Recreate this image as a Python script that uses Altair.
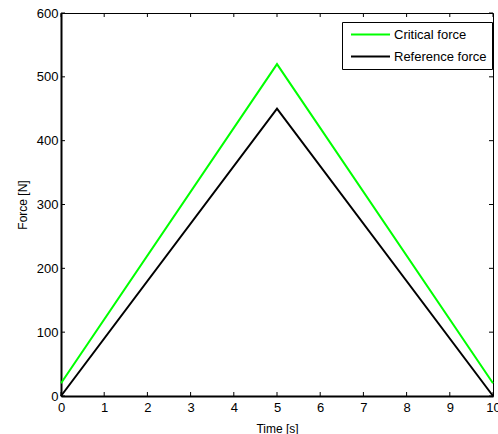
import altair as alt
import pandas as pd

time_s = [0, 5, 10]
critical_force = [20, 520, 20]
reference_force = [0, 450, 0]
series_names = ["Critical force", "Reference force"]
series_colors = ["#00ff00", "#000000"]
x_ticks = [0, 1, 2, 3, 4, 5, 6, 7, 8, 9, 10]
y_ticks = [0, 100, 200, 300, 400, 500, 600]

rows = []
for t, v in zip(time_s, critical_force):
    rows.append({"t": t, "f": v, "s": series_names[0]})
for t, v in zip(time_s, reference_force):
    rows.append({"t": t, "f": v, "s": series_names[1]})
df = pd.DataFrame(rows)
xt = pd.DataFrame({"t": x_ticks})
yt = pd.DataFrame({"f": y_ticks})

W, H = 432, 383
TL = 4
FONT = "Liberation Sans"
xs = alt.Scale(domain=[0, 10], nice=False, zero=False)
ys = alt.Scale(domain=[0, 600], nice=False, zero=False)

lines = alt.Chart(df).mark_line(strokeWidth=2).encode(
    x=alt.X("t:Q", scale=xs, title="Time [s]",
            axis=alt.Axis(values=x_ticks, ticks=False, domainWidth=2, domainColor="black",
                          labelPadding=5, labelFontSize=13, labelColor="black", labelFont=FONT,
                          labelFlush=False, labelOverlap=False,
                          titleFont=FONT, titleFontSize=12, titleFontWeight="normal",
                          titleColor="black", titleY=32, titleBaseline="middle", grid=False)),
    y=alt.Y("f:Q", scale=ys, title="Force [N]",
            axis=alt.Axis(values=y_ticks, ticks=False, domainWidth=2, domainColor="black",
                          labelPadding=3, labelFontSize=13, labelColor="black", labelFont=FONT,
                          labelFlush=False, labelOverlap=False,
                          titleFont=FONT, titleFontSize=12, titleFontWeight="normal",
                          titleColor="black", titleX=-39, titleBaseline="middle", grid=False)),
    color=alt.Color("s:N", scale=alt.Scale(domain=series_names, range=series_colors),
                    legend=alt.Legend(title=None, orient="none", legendX=281, legendY=9,
                                      fillColor="white", strokeColor="black", padding=5,
                                      symbolType="M-3,0H3", symbolSize=169, symbolStrokeWidth=2,
                                      symbolOffset=16,
                                      labelFont=FONT, labelFontSize=13, labelColor="black",
                                      labelOffset=16, rowPadding=7)),
)

tick_style = dict(color="black", strokeWidth=1)
bottom_ticks = alt.Chart(xt).mark_rule(**tick_style).encode(
    x=alt.X("t:Q", scale=xs), y=alt.value(H), y2=alt.value(H - TL))
top_ticks = alt.Chart(xt).mark_rule(**tick_style).encode(
    x=alt.X("t:Q", scale=xs), y=alt.value(0), y2=alt.value(TL))
left_ticks = alt.Chart(yt).mark_rule(**tick_style).encode(
    y=alt.Y("f:Q", scale=ys), x=alt.value(0), x2=alt.value(TL))
right_ticks = alt.Chart(yt).mark_rule(**tick_style).encode(
    y=alt.Y("f:Q", scale=ys), x=alt.value(W), x2=alt.value(W - TL))

chart = alt.layer(lines, bottom_ticks, top_ticks, left_ticks, right_ticks).properties(
    width=W, height=H,
    autosize=alt.AutoSizeParams(type="none"),
    padding={"left": 61, "top": 13, "right": 5, "bottom": 38},
).configure_view(stroke="black", strokeWidth=1)

chart.save("out.html", embed_options={"renderer": "svg", "actions": False})
